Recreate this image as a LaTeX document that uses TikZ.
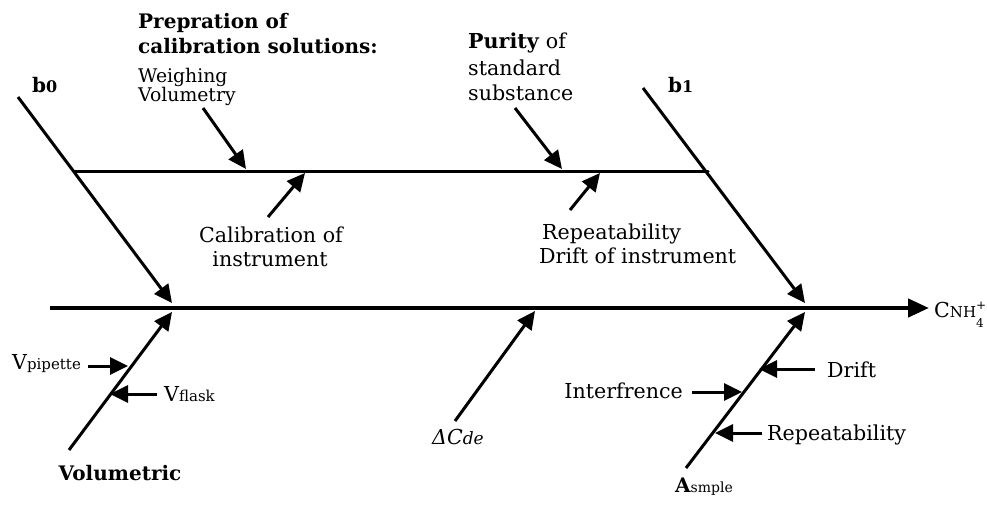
\documentclass[tikz,border=0pt]{standalone}
\usepackage{fontspec}
\setmainfont{DejaVu Serif}
\usetikzlibrary{arrows.meta}
\begin{document}
\begin{tikzpicture}[x=1pt,y=-1pt,
  bone/.style={line width=3pt,line cap=round},
  arr/.style={line width=3pt,-{Triangle[length=18pt,width=17pt]}},
  spine/.style={line width=4.4pt,-{Triangle[length=21pt,width=18pt]}},
  txt/.style={font=\fontsize{20.6}{24}\selectfont,inner sep=0pt},
  stxt/.style={font=\fontsize{18.8}{22}\selectfont,inner sep=0pt},
  btxt/.style={font=\bfseries\fontsize{20}{24}\selectfont,inner sep=0pt},
]
\useasboundingbox (0,0) rectangle (987,506);
% coordinates
\coordinate (s0) at (50,308);
\coordinate (s1) at (929,308);
\coordinate (b0s) at (18,97);
\coordinate (b0e) at (172,303);
\coordinate (u0) at (75,171);
\coordinate (u1) at (708,171);
\coordinate (b1s) at (643,88);
\coordinate (b1e) at (805,303);
\coordinate (vols) at (69,450);
\coordinate (vole) at (172,312);
\coordinate (asms) at (686,468);
\coordinate (asme) at (805,312);
\coordinate (dcs) at (455,421);
\coordinate (dce) at (535,311);
\coordinate (preps) at (203,108);
\coordinate (prepe) at (246,169);
\coordinate (cals) at (268,217);
\coordinate (cale) at (305,173);
\coordinate (purs) at (515,108);
\coordinate (pure) at (562,169);
\coordinate (reps) at (570,210);
\coordinate (repe) at (600,173);
\coordinate (vps) at (88,366);
\coordinate (vpe) at (128,366);
\coordinate (vfs) at (157,394);
\coordinate (vfe) at (110,394);
\coordinate (drs) at (815,369);
\coordinate (dre) at (759,369);
\coordinate (ins) at (692,392);
\coordinate (ine) at (742,392);
\coordinate (r2s) at (762,433);
\coordinate (r2e) at (715,433);
% lines
\draw[spine] (s0) -- (s1);
\draw[bone] (u0) -- (u1);
\draw[arr] (b0s) -- (b0e);
\draw[arr] (b1s) -- (b1e);
\draw[arr] (vols) -- (vole);
\draw[arr] (asms) -- (asme);
\draw[arr] (dcs) -- (dce);
\draw[arr] (preps) -- (prepe);
\draw[arr] (cals) -- (cale);
\draw[arr] (purs) -- (pure);
\draw[arr] (reps) -- (repe);
\draw[arr] (vps) -- (vpe);
\draw[arr] (vfs) -- (vfe);
\draw[arr] (drs) -- (dre);
\draw[arr] (ins) -- (ine);
\draw[arr] (r2s) -- (r2e);
% texts
\node[btxt,anchor=base west] (p1) at (138,28) {Prepration of};
\node[btxt,anchor=base west] (p2) at (138,53) {calibration solutions:};
\node[stxt,anchor=base west] (p3) at (138,82) {Weighing};
\node[stxt,anchor=base west] (p4) at (138,101) {Volumetry};
\node[btxt,anchor=base west] (b0) at (32,92) {b{\fontsize{16}{16}\selectfont 0}};
\node[btxt,anchor=base west] (b1) at (668,92) {b{\fontsize{16}{16}\selectfont 1}};
\node[txt,anchor=base west] (q1) at (468,48) {\textbf{Purity} of};
\node[txt,anchor=base west] (q2) at (468,75) {standard};
\node[txt,anchor=base west] (q3) at (468,100) {substance};
\node[txt,anchor=base] (c1) at (271,242) {Calibration of};
\node[txt,anchor=base] (c2) at (270,266) {instrument};
\node[txt,anchor=base west] (r1) at (542,239) {Repeatability};
\node[txt,anchor=base west] (r2) at (539,263) {Drift of instrument};
\node[txt,anchor=base west] (cnh) at (934,317) {C{\fontsize{15}{15}\selectfont NH}\makebox[0pt][l]{\raisebox{8pt}{\fontsize{12}{12}\selectfont +}}\raisebox{-10pt}{\fontsize{12}{12}\selectfont 4}};
\node[txt,anchor=base west] (vp) at (12,369) {V{\fontsize{15}{15}\selectfont pipette}};
\node[txt,anchor=base west] (vf) at (164,401) {V{\fontsize{15}{15}\selectfont flask}};
\node[btxt,anchor=base] (vol) at (120,480) {Volumetric};
\node[txt,anchor=base] (dc) at (458,444) {\itshape ΔC{\fontsize{17}{17}\selectfont de}};
\node[txt,anchor=base west] (dr) at (827,377) {Drift};
\node[txt,anchor=base east] (inf) at (683,398) {Interfrence};
\node[txt,anchor=base west] (rp) at (767,440) {Repeatability};
\node[btxt,anchor=base west] (asm) at (675,492) {A{\mdseries\fontsize{14}{14}\selectfont smple}};
\end{tikzpicture}
\end{document}
